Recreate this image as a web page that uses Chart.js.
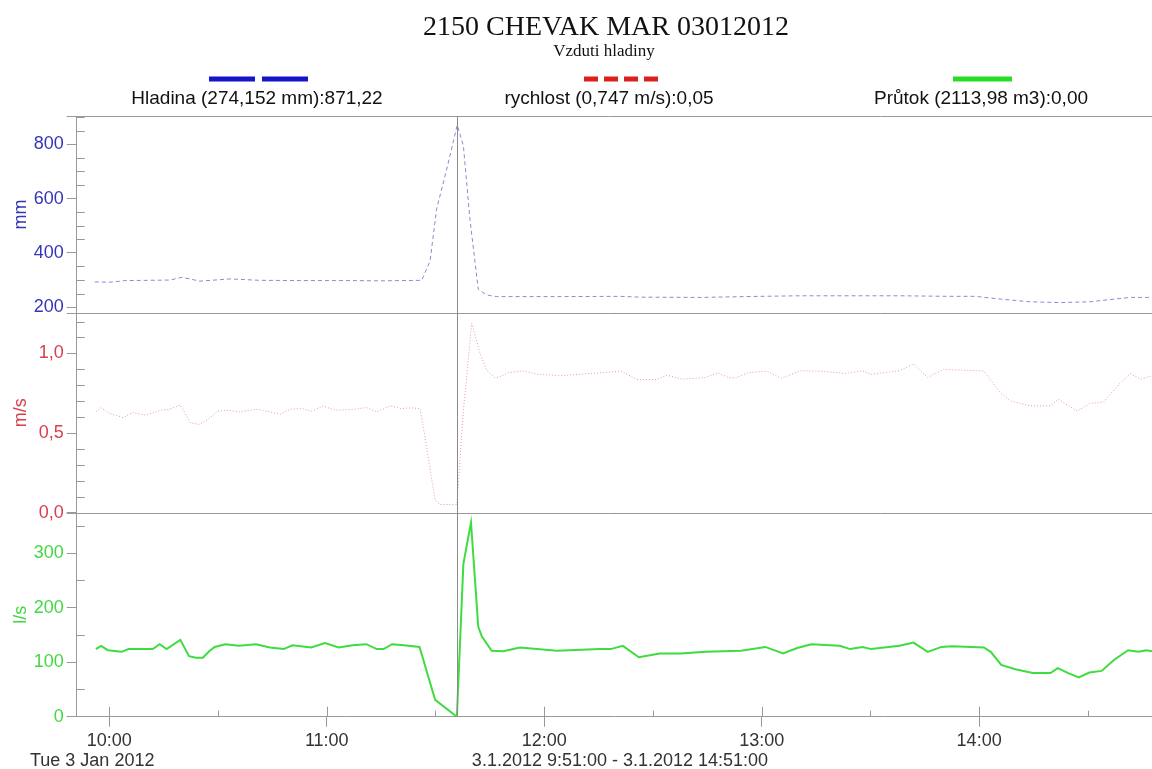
<!DOCTYPE html>
<html>
<head>
<meta charset="utf-8">
<script src="https://cdn.jsdelivr.net/npm/chart.js@4.4.0/dist/chart.umd.min.js"></script>
<style>
html,body{margin:0;padding:0;background:#fff;}
#c{display:block;}
</style>
</head>
<body>
<canvas id="c" width="1152" height="769"></canvas>
<script>
// texty
const titleText='2150 CHEVAK MAR 03012012';
const subtitleText='Vzduti hladiny';
const legendLabels=['Hladina (274,152 mm):871,22','rychlost (0,747 m/s):0,05','Průtok (2113,98 m3):0,00'];
const axisTitles=['mm','m/s','l/s'];
const dateLeft='Tue 3 Jan 2012';
const dateRange='3.1.2012 9:51:00 - 3.1.2012 14:51:00';

// cas = minuty od pulnoci
const timeMin=591, timeMax=887.7, cursorTime=696;

const levelTimes=[596,600.2,604.3,611.2,616.7,620.1,625,633.3,641.5,652.6,666.4,674.7,686.2,688.5,690.3,693.1,696,697.7,699.5,701.8,704.1,706.9,724.4,741,746.5,763,779.6,790.6,818.2,832,838.9,845.8,854,862.3,870.6,876.1,881.6,887.7];
const levelValues=[293,292,298,299,300,310,296,304,299,298,298,297,299,370,561,708,871,794,524,266,245,239,239,240,237,236,240,242,242,240,240,230,220,217,220,228,236,236];

const velTimes=[596.3,597.7,600.1,603.9,606.3,610.1,613.9,616.3,619.6,622.4,624.8,627.2,630,632.9,635.7,641,647.2,650,653.3,655.7,659,662.4,667.1,670.9,673.8,677.6,680.4,683.2,685.7,687.1,689.9,691.3,695.9,697.7,700,702.3,704.1,706.4,707.8,710.1,714.2,717.9,724.4,735.4,741.2,745.6,750.9,753.9,758.2,764.5,767.9,770.9,772.8,776.2,781.5,785.4,790.8,795.6,803.4,807.8,810.2,818,821.9,825.8,830.2,835.5,841.3,845.7,848.6,854,859.8,861.8,867.1,870.5,874.4,878.3,881.7,884.6,887.7];
const velValues=[0.633,0.660,0.623,0.597,0.629,0.612,0.643,0.648,0.675,0.564,0.555,0.585,0.639,0.643,0.633,0.650,0.618,0.650,0.654,0.637,0.669,0.643,0.648,0.660,0.633,0.671,0.654,0.658,0.654,0.476,0.077,0.052,0.052,0.643,1.19,1.0,0.895,0.847,0.853,0.88,0.89,0.87,0.86,0.878,0.889,0.836,0.836,0.863,0.838,0.849,0.878,0.847,0.847,0.878,0.889,0.843,0.891,0.889,0.874,0.891,0.868,0.891,0.933,0.849,0.899,0.895,0.889,0.759,0.702,0.671,0.671,0.713,0.637,0.686,0.696,0.80,0.874,0.838,0.86];

const flowTimes=[596.3,597.7,599.6,603.4,605.3,612,613.9,615.8,619.6,622,623.9,625.8,627.7,629.1,632,635.7,640.5,644.3,648.1,650.5,655.7,659.5,663.3,667.1,670.9,673.8,675.7,678,681.3,685.6,689.9,695.9,697.7,699.8,701.8,702.8,705.5,708.7,713.3,723.5,735.4,738.3,741.7,746.1,751.9,757.7,764.5,774.3,781,785.9,789.8,793.7,801.5,804.4,807.8,810.2,818,821.9,825.8,829.6,832.5,841.3,843.2,846.1,850,854.8,859.7,861.7,864.6,867.5,870.4,873.8,877.2,881.1,884,886.1,887.7];
const flowValues=[124,130,122,119,124,124,133,124,141,111,108,108,121,128,133,130,133,127,124,131,127,135,127,131,133,124,124,133,131,128,31,0,281,356,165,147,121,120,127,121,124,124,130,109,116,116,119,121,128,116,126,133,130,124,128,124,130,136,119,128,129,127,119,95,87,80,80,89,80,72,81,84,104,122,119,122,120];

const FONT='"Liberation Sans", Arial, sans-serif';
const SERIF='"Liberation Serif", "Times New Roman", serif';
const colLevel='#3535b8', colVel='#d8404e', colFlow='#44d844';

function pts(ts,vs){return ts.map((t,i)=>({x:t,y:vs[i]}));}
function hhmm(v){let h=Math.floor(v/60),m=Math.round(v%60);return h+':'+(m<10?'0':'')+m;}
function onStep(v,step){let r=v/step;return Math.abs(r-Math.round(r))<1e-6;}
// ticky po kroku uvnitr rozsahu osy
function stepTicks(s,step){
 let out=[];
 for(let k=Math.ceil(s.min/step-1e-9);k*step<=s.max+1e-9;k++)out.push({value:Math.round(k*step*1000)/1000});
 s.ticks=out;
}

function yAxis(title,color,min,max,step,major,weight,fmt){
 return {
  type:'linear',position:'left',stack:'panels',stackWeight:weight,offset:false,
  min:min,max:max,
  afterBuildTicks(s){stepTicks(s,step);},
  afterFit(s){s.width=76.7;},
  ticks:{autoSkip:false,color:color,padding:3,font:{family:FONT,size:18},
   callback:v=>onStep(v,major)?fmt(v):''},
  grid:{drawOnChartArea:false,tickLength:10,
   tickColor:c=>(c.tick&&onStep(c.tick.value,major))?'#999':'rgba(0,0,0,0)'},
  border:{color:'#999'},
  title:{display:true,text:title,color:color,font:{family:FONT,size:18},padding:{top:10,bottom:0}}
 };
}

const overlay={
 id:'overlay',
 afterDraw(chart){
  const ctx=chart.ctx,a=chart.chartArea,sx=chart.scales.x;
  ctx.save();
  // titulek
  ctx.fillStyle='#111';ctx.textAlign='center';ctx.textBaseline='middle';
  ctx.font='28px '+SERIF;ctx.fillText(titleText,606,28);
  ctx.font='17px '+SERIF;ctx.fillText(subtitleText,604,52);
  // legenda
  const lx=[257,609,981];
  ctx.font='19px '+FONT;ctx.fillStyle='#111';
  legendLabels.forEach((t,i)=>ctx.fillText(t,lx[i],99));
  ctx.lineWidth=5;ctx.lineCap='butt';
  ctx.strokeStyle='#1414c8';ctx.setLineDash([46,7]);
  ctx.beginPath();ctx.moveTo(209,79);ctx.lineTo(308,79);ctx.stroke();
  ctx.strokeStyle='#dd1e1e';ctx.setLineDash([14,6]);
  ctx.beginPath();ctx.moveTo(584,79);ctx.lineTo(658,79);ctx.stroke();
  ctx.strokeStyle='#28dc28';ctx.setLineDash([]);
  ctx.beginPath();ctx.moveTo(953,79);ctx.lineTo(1012,79);ctx.stroke();
  // oddelovace panelu a vnitrni ticky
  ctx.lineWidth=1;ctx.strokeStyle='#999';
  ['yLevel','yVel','yFlow'].forEach(id=>{
   const s=chart.scales[id];
   ctx.beginPath();ctx.moveTo(a.left-10,Math.round(s.top)+0.5);ctx.lineTo(a.right,Math.round(s.top)+0.5);ctx.stroke();
   s.ticks.forEach(t=>{
    if(t.label!=='')return;
    const y=Math.round(s.getPixelForValue(t.value))+0.5;
    ctx.beginPath();ctx.moveTo(a.left,y);ctx.lineTo(a.left+8,y);ctx.stroke();
   });
  });
  // ticky osy x dovnitr
  sx.ticks.forEach(t=>{
   const x=Math.round(sx.getPixelForValue(t.value))+0.5;
   const len=onStep(t.value,60)?10:6;
   ctx.beginPath();ctx.moveTo(x,a.bottom);ctx.lineTo(x,a.bottom-len);ctx.stroke();
  });
  // kurzor
  ctx.strokeStyle='#8a8a8a';
  const cx=Math.round(sx.getPixelForValue(cursorTime))+0.5;
  ctx.beginPath();ctx.moveTo(cx,a.top);ctx.lineTo(cx,a.bottom);ctx.stroke();
  // datum
  ctx.fillStyle='#333';ctx.font='18px '+FONT;
  ctx.textAlign='left';ctx.fillText(dateLeft,30,761);
  ctx.textAlign='center';ctx.fillText(dateRange,620,761);
  ctx.restore();
 }
};

new Chart(document.getElementById('c').getContext('2d'),{
 type:'line',
 data:{datasets:[
  {label:legendLabels[2],data:pts(flowTimes,flowValues),yAxisID:'yFlow',borderColor:'#3fdc3f',borderWidth:2,pointRadius:0,tension:0},
  {label:legendLabels[1],data:pts(velTimes,velValues),yAxisID:'yVel',borderColor:'#e39aa3',borderWidth:1,borderDash:[1,2],pointRadius:0,tension:0},
  {label:legendLabels[0],data:pts(levelTimes,levelValues),yAxisID:'yLevel',borderColor:'#8a8ad6',borderWidth:1,borderDash:[4,3],pointRadius:0,tension:0}
 ]},
 options:{
  responsive:false,animation:false,
  layout:{padding:{top:116,left:0,right:0,bottom:0}},
  plugins:{legend:{display:false},tooltip:{enabled:false}},
  scales:{
   x:{type:'linear',min:timeMin,max:timeMax,
    afterBuildTicks(s){stepTicks(s,30);},
    afterFit(s){s.height=52.3;},
    ticks:{autoSkip:false,maxRotation:0,color:'#333',padding:4,font:{family:FONT,size:18},
     callback:v=>onStep(v,60)?hhmm(v):''},
    grid:{drawOnChartArea:false,tickLength:10,
     tickColor:c=>(c.tick&&onStep(c.tick.value,60))?'#999':'rgba(0,0,0,0)'},
    border:{color:'#999'}},
   yFlow:yAxis(axisTitles[2],colFlow,0,374,50,100,204,v=>String(v)),
   yVel:yAxis(axisTitles[1],colVel,0,1.254,0.1,0.5,200,v=>v.toFixed(1).replace('.',',')),
   yLevel:yAxis(axisTitles[0],colLevel,179,904,50,200,197,v=>String(v))
  }
 },
 plugins:[overlay]
});
</script>
</body>
</html>
